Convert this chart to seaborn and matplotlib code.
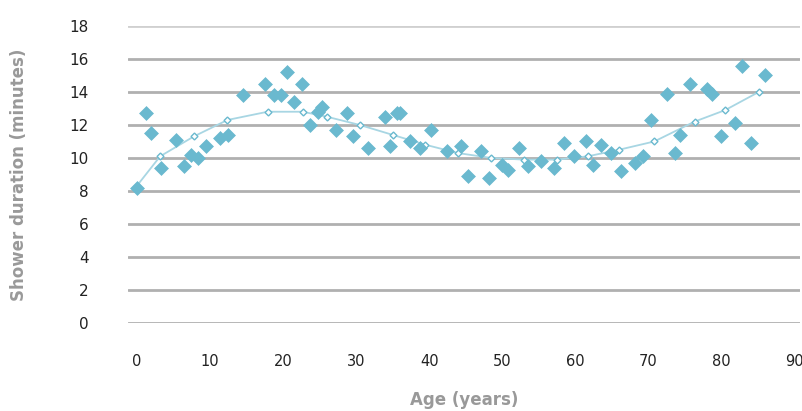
import matplotlib
matplotlib.use("Agg")
import matplotlib.pyplot as plt
import seaborn as sns
import pandas as pd

# Scatter observations (age in years, shower duration in minutes)
ages = [0.1, 1.2, 2.0, 3.3, 5.4, 6.4, 7.4, 8.4, 9.5, 11.4, 12.5, 14.6, 17.5,
        18.8, 19.7, 20.6, 21.5, 22.6, 23.7, 24.8, 25.4, 27.2, 28.7, 29.6,
        31.6, 34.0, 34.7, 35.6, 36.0, 37.4, 38.8, 40.2, 42.5, 44.3, 45.3,
        47.1, 48.2, 49.9, 50.8, 52.3, 53.5, 55.3, 57.1, 58.5, 59.8, 61.5,
        62.4, 63.5, 64.9, 66.3, 68.1, 69.3, 70.4, 72.5, 73.6, 74.3, 75.7,
        78.0, 78.7, 79.9, 81.8, 82.8, 84.0, 86.0]
durations = [8.2, 12.7, 11.5, 9.4, 11.1, 9.5, 10.2, 10.0, 10.7, 11.2, 11.4,
             13.8, 14.5, 13.8, 13.8, 15.2, 13.4, 14.5, 12.0, 12.8, 13.1, 11.7,
             12.7, 11.3, 10.6, 12.5, 10.7, 12.7, 12.7, 11.0, 10.6, 11.7, 10.4,
             10.7, 8.9, 10.4, 8.8, 9.6, 9.3, 10.6, 9.5, 9.8, 9.4, 10.9, 10.1,
             11.0, 9.6, 10.8, 10.3, 9.2, 9.7, 10.1, 12.3, 13.9, 10.3, 11.4,
             14.5, 14.2, 13.9, 11.3, 12.1, 15.6, 10.9, 15.0]

# Trend line
trend_ages = [0, 3.2, 7.8, 12.4, 17.9, 22.7, 26.0, 30.5, 35.0, 39.5, 43.9,
              48.5, 53.0, 57.5, 61.7, 66.0, 70.8, 76.3, 80.5, 85.1]
trend_vals = [8.3, 10.1, 11.3, 12.3, 12.8, 12.8, 12.5, 12.0, 11.4, 10.8, 10.3,
              10.0, 9.9, 9.9, 10.1, 10.5, 11.0, 12.2, 12.9, 14.0]

yticks = [0, 2, 4, 6, 8, 10, 12, 14, 16, 18]
xticks = [0, 10, 20, 30, 40, 50, 60, 70, 80, 90]

df = pd.DataFrame({"age": ages, "dur": durations})
tr = pd.DataFrame({"age": trend_ages, "dur": trend_vals})

sns.set_theme(style="white")
plt.rcParams['font.family'] = ['DejaVu Sans']

fig = plt.figure(figsize=(8.03, 4.11), dpi=100)
ax = fig.add_axes([0.159, 0.214, 0.837, 0.723])

blue = "#6ab9cf"
for y in yticks:
    ax.axhline(y, color="#b0b0b0" if y != 18 else "#d0d0d0", lw=2.0, zorder=0)

sns.lineplot(data=tr, x="age", y="dur", ax=ax, color="#a8d6e3", lw=1.3,
             marker="D", markersize=3.5, markerfacecolor="white",
             markeredgecolor=blue, markeredgewidth=1.0, zorder=2)
sns.scatterplot(data=df, x="age", y="dur", ax=ax, marker="D", s=50,
                color=blue, edgecolor=blue, linewidth=0.5, zorder=3)

ax.set_xlim(-1.24, 90.7)
ax.set_ylim(0, 18)
ax.set_xticks(xticks)
ax.set_yticks(yticks)
ax.set_xticklabels([str(v) for v in xticks], fontsize=10.5, color="#222222")
ax.set_yticklabels([str(v) for v in yticks], fontsize=11, color="#222222")
ax.tick_params(axis="x", length=0, pad=22)
ax.tick_params(axis="y", length=0, pad=28)
for s in ax.spines.values():
    s.set_visible(False)
ax.grid(False)
ax.set_xlabel("Age (years)", fontsize=12, color="#999999", fontweight="bold",
              labelpad=16)
ax.set_ylabel("Shower duration (minutes)", fontsize=12, color="#999999",
              fontweight="bold", labelpad=30)

fig.savefig("out.png", dpi=100, facecolor="white")
